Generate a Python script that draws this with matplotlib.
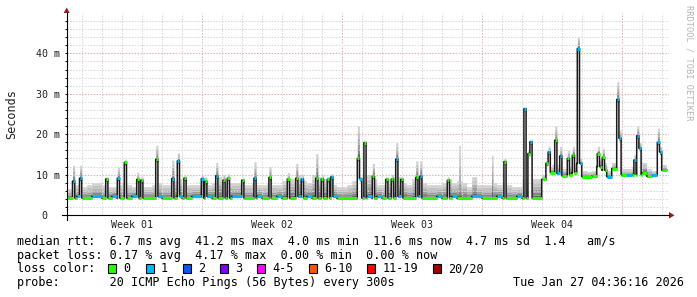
import numpy as np
import matplotlib
matplotlib.use('Agg')
import matplotlib.pyplot as plt
from matplotlib.patches import Polygon, Rectangle

# ---- values: time in days from the left edge, rtt in ms ----
cell = 0.25       # one baseline sample, days
spike_w = 0.11    # one short excursion, days

# baseline median per 0.25 day
base_med = [
    4.2, 4.2, 4.6, 4.2, 4.2, 4.6, 4.6, 4.2, 4.2, 4.6,
    4.2, 4.2, 4.2, 4.6, 4.2, 4.2, 4.2, 4.2, 4.6, 4.2,
    4.2, 4.2, 4.6, 4.2, 4.2, 4.6, 4.6, 4.2, 4.6, 4.2,
    4.2, 4.2, 4.2, 4.6, 4.6, 4.2, 4.2, 4.2, 4.6, 4.2,
    4.2, 4.2, 4.6, 4.2, 4.2, 4.2, 4.6, 4.2, 4.6, 4.2,
    4.2, 4.2, 4.2, 4.6, 4.2, 4.2, 4.2, 4.2, 4.2, 4.2,
    4.6, 4.2, 4.6, 4.2, 4.2, 4.2, 4.6, 4.2, 4.2, 4.2,
    4.6, 4.2, 4.2, 4.2, 4.6, 4.2, 4.2, 4.6, 4.2, 4.2,
    4.2, 4.6, 4.6, 4.2, 4.2, 4.2, 4.6, 4.2, 4.2, 4.2,
    4.6, 4.2, 4.2, 4.2, 4.2, 8.8, 10.5, 10.5, 10.3, 9.7,
    9.9, 10.5, 12.8, 9.5, 9.5, 9.6, 12.0, 11.1, 9.5, 11.5,
    10.0, 9.9, 9.9, 10.0, 10.0, 10.5, 9.6, 9.8, 10.0, 11.1,
]
base_loss = [
    0, 0, 1, 0, 0, 1, 1, 0, 0, 1,
    0, 0, 0, 1, 0, 0, 0, 0, 1, 0,
    0, 0, 1, 0, 0, 1, 1, 0, 1, 0,
    0, 0, 0, 1, 1, 0, 0, 0, 1, 0,
    0, 0, 1, 0, 0, 0, 1, 0, 1, 0,
    0, 0, 0, 1, 0, 0, 0, 0, 0, 0,
    1, 0, 1, 0, 0, 0, 1, 0, 0, 0,
    1, 0, 0, 0, 1, 0, 0, 1, 0, 0,
    0, 1, 1, 0, 0, 0, 1, 0, 0, 0,
    1, 0, 0, 0, 0, 0, 0, 0, 1, 0,
    0, 0, 1, 0, 0, 0, 0, 0, 1, 0,
    0, 0, 1, 0, 0, 0, 0, 1, 0, 0,
]
# top of the smoke (slowest ping) per 0.25 day
base_top = [
    6.5, 7.5, 7.5, 7.0, 7.5, 8.0, 8.0, 7.5, 7.0, 7.0,
    7.5, 8.0, 7.5, 7.0, 8.5, 7.0, 7.0, 7.5, 8.0, 7.5,
    7.5, 8.5, 9.0, 7.5, 7.5, 7.5, 7.5, 9.0, 7.5, 8.0,
    9.5, 9.0, 8.0, 8.0, 8.0, 7.5, 7.5, 8.0, 7.5, 7.5,
    8.0, 7.5, 7.5, 8.5, 9.0, 9.0, 10.0, 8.5, 8.0, 10.0,
    9.5, 9.0, 9.5, 7.5, 7.0, 7.0, 7.5, 8.5, 10.0, 9.5,
    10.0, 9.0, 7.5, 7.5, 9.0, 9.5, 9.5, 8.0, 7.5, 9.0,
    10.0, 8.0, 7.5, 7.5, 7.5, 8.0, 9.0, 8.0, 8.5, 8.0,
    7.0, 9.5, 7.5, 7.5, 7.5, 8.0, 7.5, 8.0, 7.5, 7.0,
    7.0, 9.0, 9.0, 9.0, 9.0, 10.0, 12.0, 12.5, 12.5, 11.5,
    12.0, 12.5, 14.0, 11.0, 10.8, 11.0, 14.0, 13.0, 11.0, 13.0,
    12.0, 11.5, 11.5, 12.0, 13.0, 13.0, 11.5, 11.0, 12.0, 12.5,
]

# short excursions of the median
spike_day = [0.29, 0.64, 1.95, 2.53, 2.88, 3.50, 3.70, 4.45, 5.25, 5.53,
             5.86, 6.73, 6.90, 7.45, 7.81, 8.03, 8.75, 9.36, 10.11, 11.03,
             11.45, 11.73, 12.45, 12.73, 13.03, 13.20, 14.53, 14.64, 14.86, 15.28,
             15.95, 16.23, 16.45, 16.70, 17.45, 17.65, 19.03, 21.86, 22.86, 23.06,
             23.16, 23.96, 24.07, 24.40, 24.65, 25.03, 25.28, 25.53, 26.53, 26.78,
             27.50, 27.61, 28.36, 28.50, 28.61, 29.53, 29.64]
spike_med = [8.4, 9.1, 8.9, 9.1, 13.0, 8.8, 8.6, 13.8, 9.0, 13.4,
             9.1, 9.0, 8.3, 9.7, 8.6, 9.1, 8.6, 9.1, 9.3, 8.9,
             9.1, 8.9, 9.1, 8.9, 8.8, 9.4, 14.0, 9.0, 17.9, 9.6,
             8.8, 8.9, 13.8, 8.8, 9.3, 9.6, 8.6, 13.2, 26.3, 15.2,
             18.1, 12.8, 15.6, 18.5, 14.6, 14.0, 14.8, 41.2, 15.2, 14.3,
             28.6, 19.0, 13.6, 19.6, 16.5, 18.0, 15.6]
spike_top = [12.3, 12.3, 9.5, 11.9, 13.8, 10.6, 9.5, 17.3, 13.6, 15.4,
             9.8, 9.8, 9.5, 13.0, 10.0, 10.2, 9.2, 13.2, 12.0, 10.5,
             12.8, 10.0, 15.2, 10.0, 9.5, 10.2, 22.0, 9.5, 18.5, 12.8,
             9.5, 10.0, 17.9, 9.5, 13.4, 13.4, 9.5, 14.0, 26.8, 16.0,
             18.8, 13.5, 17.0, 22.0, 17.0, 16.0, 17.0, 44.0, 17.0, 16.5,
             33.0, 21.0, 15.0, 22.0, 18.0, 21.5, 17.0]
spike_loss = [1, 1, 0, 1, 0, 0, 0, 0, 1, 1,
              0, 1, 0, 1, 0, 0, 0, 1, 0, 0,
              0, 1, 0, 0, 0, 1, 0, 1, 0, 0,
              0, 0, 1, 0, 0, 1, 0, 0, 1, 0,
              1, 0, 1, 0, 1, 0, 0, 1, 0, 0,
              1, 1, 1, 1, 1, 1, 1]

# lone smoke columns without a median step
plume_day = [19.60, 21.24]
plume_top = [17.3, 14.8]

loss_labels = ['0', '1', '2', '3', '4-5', '6-10', '11-19', '20/20']
loss_upper = [0, 1, 2, 3, 5, 10, 19, 20]
loss_colors = ['#26ff00', '#00b8ff', '#0059ff', '#7e00ff',
               '#ff00ff', '#ff5500', '#ff0000', '#a00000']

week_labels = ['Week 01', 'Week 02', 'Week 03', 'Week 04']
week_mid = [3.28, 10.28, 17.28, 24.28]
y_major = [0, 10, 20, 30, 40]
y_labels = ['0', '10 m', '20 m', '30 m', '40 m']

stat_lines = [
    'median rtt:  6.7 ms avg  41.2 ms max  4.0 ms min  11.6 ms now  4.7 ms sd  1.4   am/s',
    'packet loss: 0.17 % avg  4.17 % max  0.00 % min  0.00 % now',
]
probe_text = 'probe:       20 ICMP Echo Pings (56 Bytes) every 300s'
stamp = 'Tue Jan 27 04:36:16 2026'

# ---- fine time series ----
res = 0.01
t = np.arange(0, len(base_med) * cell, res)
idx = np.minimum(np.floor(t / cell + 1e-6).astype(int), len(base_med) - 1)
med = np.array(base_med)[idx]
top = np.array(base_top)[idx]
loss = np.array(base_loss)[idx]
low = med - 0.3

for d, m, tp, l in zip(spike_day, spike_med, spike_top, spike_loss):
    sel = (t >= d - 1e-6) & (t < d + spike_w - 1e-6)
    med[sel] = m
    top[sel] = tp
    loss[sel] = l
    low[sel] = m - 0.6
for d, tp in zip(plume_day, plume_top):
    sel = (t >= d - 1e-6) & (t < d + 0.08 - 1e-6)
    top[sel] = tp

W, H = 697, 297
fig = plt.figure(figsize=(W / 100, H / 100), dpi=100)
fig.patch.set_facecolor('white')
x0, x1, y0, y1 = 66.7, 669.0, 215.0, 13.0
ax = fig.add_axes([x0 / W, (H - y0) / H, (x1 - x0) / W, (y0 - y1) / H])
ax.set_xlim(0, (x1 - x0) / 20.0)
ax.set_ylim(0, 50)
for s in ax.spines.values():
    s.set_visible(False)

# smoke: darkest close to the median
frac = [0.0, 0.15, 0.3, 0.45, 0.62, 0.8, 1.0]
grays = ['#626262', '#848484', '#9c9c9c', '#b0b0b0', '#c2c2c2', '#d2d2d2']
ax.fill_between(t, low, med, step='post', color='#787878', lw=0, zorder=1)
for k, g in enumerate(grays):
    lo = med + (top - med) * frac[k]
    hi = med + (top - med) * frac[k + 1]
    ax.fill_between(t, lo, hi, step='post', color=g, lw=0, zorder=1)

# grid
mono = 'DejaVu Sans Mono'
for k in range(30):
    d = 0.78 + k
    major = (k % 7 == 6)
    ax.axvline(d, color='#eab0b0' if major else '#d8d8d8', lw=0.75,
               ls=(0, (1.4, 1.4)), zorder=2)
for v in range(2, 50, 2):
    major = (v % 10 == 0)
    ax.axhline(v, color='#eab0b0' if major else '#d8d8d8', lw=0.75,
               ls=(0, (1.4, 1.4)), zorder=2)

# median: thin dark step line plus loss-coloured level segments
ax.step(np.r_[t, t[-1] + res], np.r_[med, med[-1]], where='post',
        color='#1a1a1a', lw=1.1, zorder=3)
starts = np.r_[0, np.flatnonzero((np.diff(med) != 0) | (np.diff(loss) != 0)) + 1]
ends = np.r_[starts[1:], len(t)]
bins = np.searchsorted(loss_upper, loss)
ax.hlines(med[starts], t[starts], np.r_[t, t[-1] + res][ends],
          colors=[loss_colors[b] for b in bins[starts]], lw=2.2, zorder=4)

# ticks and labels
ax.set_yticks(y_major, y_labels, fontfamily=mono, fontsize=7.2)
ax.set_yticks(range(2, 50, 2), minor=True)
ax.tick_params(axis='y', which='both', direction='out', length=1.8, width=0.7,
               pad=3.0, color='black', labelcolor='#222222')
ax.yaxis.get_major_ticks()[0].set_pad(3.0 + 12.3 * 0.72)
ax.set_xticks(week_mid, week_labels, fontfamily=mono, fontsize=7.2)
ax.tick_params(axis='x', length=0, pad=3.5, labelcolor='#222222')

# overlay in pixel coordinates for frame and legend
ov = fig.add_axes([0, 0, 1, 1], zorder=5)
ov.set_xlim(0, W)
ov.set_ylim(H, 0)
ov.axis('off')
ov.plot([x0, x0], [219.5, y1], color='black', lw=0.8)
ov.plot([62, x1], [215.3, 215.3], color='black', lw=0.8)
ov.add_patch(Polygon([(x0 - 3, 13), (x0 + 3, 13), (x0, 7.5)], closed=True,
                     color='#9a1a1a', lw=0))
ov.add_patch(Polygon([(x1, 212), (x1, 218.6), (x1 + 5.5, 215.3)], closed=True,
                     color='#9a1a1a', lw=0))

ov.text(11.7, 114, 'Seconds', rotation=90, ha='center', va='center',
        fontfamily=mono, fontsize=8.45, color='#222222')
ov.text(688.5, 5, 'RRDTOOL / TOBI OETIKER', rotation=270, ha='center', va='top',
        fontfamily=mono, fontsize=6.2, color='#b4b4b4')

fs = 8.45
cw = 7.07
base_y = [244.6, 258.5, 272.3, 286.2]
ov.text(16.7, base_y[0], stat_lines[0], fontfamily=mono, fontsize=fs, va='baseline')
ov.text(16.7, base_y[1], stat_lines[1], fontfamily=mono, fontsize=fs, va='baseline')
ov.text(16.7, base_y[2], 'loss color:', fontfamily=mono, fontsize=fs, va='baseline')
bx = 108.3
for lab, col in zip(loss_labels, loss_colors):
    ov.add_patch(Rectangle((bx, 264.4), 8, 8.4, facecolor=col,
                           edgecolor='black', lw=0.8))
    ov.text(bx + 15, base_y[2], lab, fontfamily=mono, fontsize=fs, va='baseline')
    bx += 15 + len(lab) * cw + 15.2
ov.text(16.7, base_y[3], probe_text, fontfamily=mono, fontsize=fs, va='baseline')
ov.text(513.3, base_y[3], stamp, fontfamily=mono, fontsize=fs, va='baseline')

fig.savefig('out.png', dpi=100)
